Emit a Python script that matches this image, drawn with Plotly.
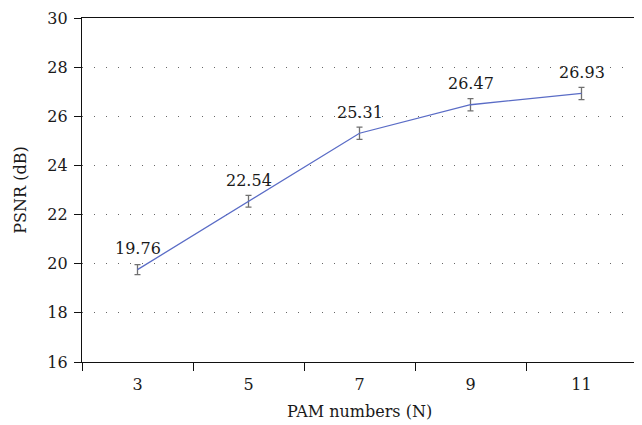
import plotly.graph_objects as go

categories = ["3", "5", "7", "9", "11"]
psnr = [19.76, 22.54, 25.31, 26.47, 26.93]
err = [0.2, 0.24, 0.25, 0.25, 0.25]
labels = ["19.76", "22.54", "25.31", "26.47", "26.93"]
yticks = [16, 18, 20, 22, 24, 26, 28, 30]

FONT = "DejaVu Serif"

fig = go.Figure()
fig.add_trace(go.Scatter(
    x=categories, y=psnr, mode="lines",
    line=dict(color="#5a6cc6", width=1.3),
    error_y=dict(type="data", array=err, visible=True, color="#707070",
                 thickness=1.3, width=3),
    showlegend=False,
))

for i, (v, t) in enumerate(zip(psnr, labels)):
    fig.add_annotation(x=i, y=v, xref="x", yref="y", text=t, showarrow=False,
                       yshift=21, font=dict(family=FONT, size=16, color="#1a1a1a"))

fig.update_layout(
    width=634, height=417,
    margin=dict(l=74, r=5, t=10, b=63),
    paper_bgcolor="white", plot_bgcolor="white",
    font=dict(family=FONT, size=16, color="#1a1a1a"),
)
fig.update_xaxes(
    type="category", tickson="boundaries", range=[-0.5, 4.5], automargin=False,
    ticks="outside", ticklen=8, tickwidth=1.2, tickcolor="#111",
    ticklabelstandoff=8,
    showline=True, linecolor="#111", linewidth=1.2, mirror=True,
    showgrid=False,
    title=dict(text="PAM numbers (N)", font=dict(family=FONT, size=16), standoff=12),
    tickfont=dict(family=FONT, size=16),
)
fig.update_yaxes(
    range=[16, 30], tickvals=yticks, automargin=False,
    ticks="outside", ticklen=7, tickwidth=1.2, tickcolor="#111",
    ticklabelstandoff=3, ticklabeloverflow="allow",
    showline=True, linecolor="#111", linewidth=1.2, mirror=True,
    showgrid=True, gridcolor="#666", gridwidth=1, griddash="1px,11px",
    zeroline=False,
    title=dict(text="PSNR (dB)", font=dict(family=FONT, size=16), standoff=16),
    tickfont=dict(family=FONT, size=16),
)

fig.write_html("out.html")
